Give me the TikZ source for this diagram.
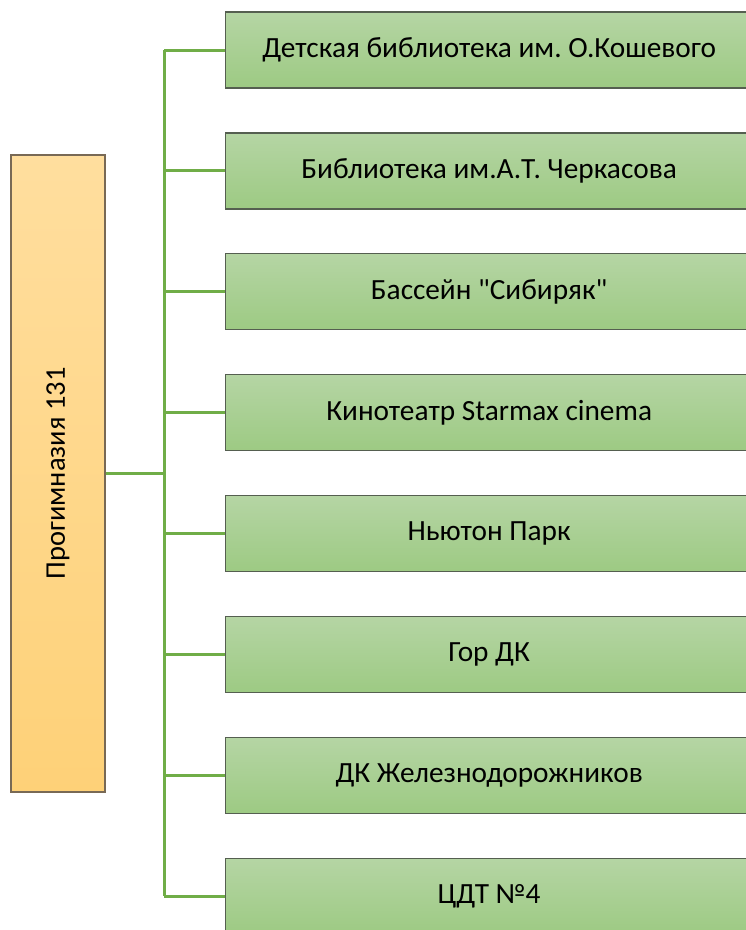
\documentclass[tikz,border=0pt]{standalone}
\usepackage{fontspec}
\setmainfont{Carlito}[Ligatures=TeXOff]
\frenchspacing
\definecolor{gtop}{RGB}{181,213,164}
\definecolor{gbot}{RGB}{157,202,131}
\definecolor{otop}{RGB}{255,222,158}
\definecolor{obot}{RGB}{254,209,120}
\definecolor{gline}{RGB}{112,173,71}
\definecolor{gborder}{RGB}{85,95,80}
\definecolor{oborder}{RGB}{120,105,85}
\begin{document}
\begin{tikzpicture}[x=1pt,y=-1pt,
  leaf/.style={draw=gborder,line width=1.3pt,top color=gtop,bottom color=gbot,
    minimum width=527pt,minimum height=76pt,inner sep=0pt,font=\fontsize{29.3}{34}\selectfont,
    anchor=west},
  rootbox/.style={draw=oborder,line width=1.3pt,top color=otop,bottom color=obot,
    minimum width=94pt,minimum height=637pt,inner sep=0pt},
  conn/.style={draw=gline,line width=3pt}]
\useasboundingbox (0,0) rectangle (746,930);
\clip (0,0) rectangle (746,930);
\node[rootbox] (root) at (58,473.5) {};
\node[rotate=90,font=\fontsize{28.5}{34}\selectfont] (rootlabel) at (root.center) {Прогимназия 131};
\coordinate (trunk) at (164,473.5);
\foreach \i/\t in {1/{Детская библиотека им. О.Кошевого},2/{Библиотека им.А.Т. Черкасова},3/{Бассейн "Сибиряк"},4/{Кинотеатр Starmax cinema},5/{Ньютон Парк},6/{Гор ДК},7/{ДК Железнодорожников},8/{ЦДТ №4}}{
  \node[leaf] (b\i) at (225,{50+(\i-1)*120.9}) {\t};
  \draw[conn] (b\i.west) -- (trunk |- b\i.west);
}
\draw[conn] (trunk |- b1.west) -- (trunk |- b8.west);
\draw[conn] (root.east) -- (trunk);
\end{tikzpicture}
\end{document}
